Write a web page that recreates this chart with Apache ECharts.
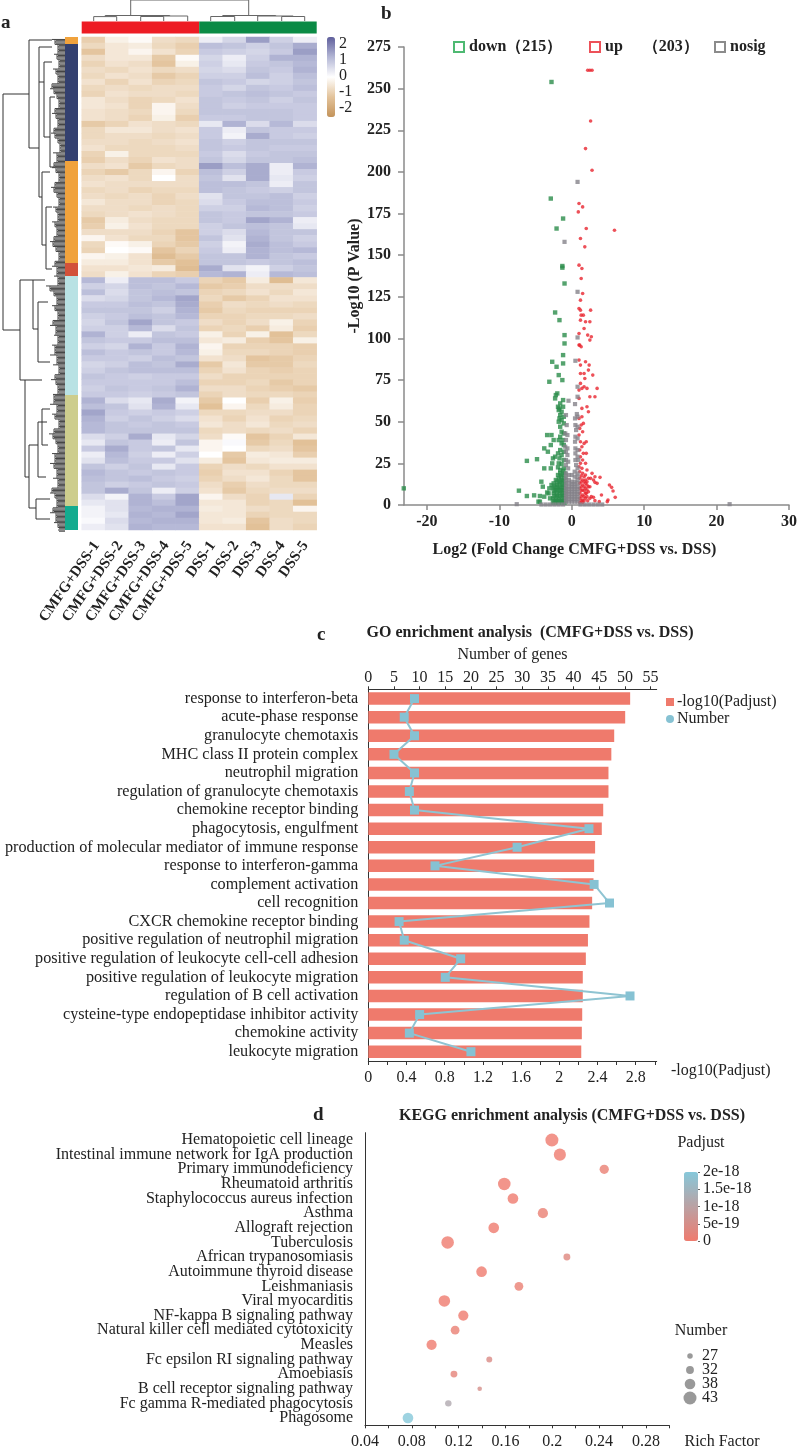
<!DOCTYPE html>
<html><head><meta charset="utf-8">
<style>html,body{margin:0;padding:0;background:#fff}#c{width:800px;height:1450px}</style>
<script src="https://cdn.jsdelivr.net/npm/echarts@6/dist/echarts.min.js"></script>
</head><body><div id="c"></div>
<script>
const FONT='"Liberation Serif"';
// ---------- panel a
const samples=['CMFG+DSS-1','CMFG+DSS-2','CMFG+DSS-3','CMFG+DSS-4','CMFG+DSS-5','DSS-1','DSS-2','DSS-3','DSS-4','DSS-5'];
const heatRows=[
[-1.1,-.4,-.2,-.8,-.9,.2,.6,1.5,.7,.2],[-.9,-.6,-.5,-.9,-1.1,1,.9,.7,.9,1.3],[-1.3,-.6,-.3,-.7,-1,.8,.7,.6,.8,1.5],
[-.8,-.6,-.6,-1.2,-.2,.6,.2,.7,1.2,1.2],[-1,-.7,-.8,-1.3,-.4,.7,.3,.8,.9,1.1],[-.8,-.9,-.7,-.9,-.8,.6,.5,.9,.8,1.2],
[-.9,-.7,-.8,-1.2,-1,.7,.7,1,.7,1],[-.7,-1,-.7,-1,-.9,.9,.8,.6,.7,.9],[-.9,-.8,-.9,-.8,-.8,.8,.6,.9,.8,1],
[-1,-.7,-.8,-.8,-.9,.8,.9,1,.9,.8],[-.6,-.8,-1,-.9,-.7,.9,.8,.9,.7,.9],[-.6,-.7,-1,-.3,-.8,.9,.7,.8,.8,.8],
[-.7,-.8,-.9,-.3,-.9,.9,.9,.9,.9,.8],[-.7,-.8,-1,-.4,-1.1,.8,.8,.9,.9,.8],[-1.2,-1,-.7,-.8,-.9,.3,1.2,.5,1.1,.5],
[-.9,-.6,-.6,-.8,-.7,.8,.2,.9,.8,.8],[-.9,-.8,-.8,-.9,-.8,.8,.1,1.3,.8,.7],[-.8,-.8,-.9,-.8,-.7,.9,.7,.9,.9,.9],
[-.7,-.9,-.9,-.9,-.8,.9,.8,.9,.8,.8],[-1,-.4,-.9,-.9,-.9,.8,.5,.8,.9,.9],[-1.1,-.8,-1,-.7,-.8,.9,.6,.9,.9,1],
[-.8,-.7,-1.2,-.9,-.8,1.5,1,1.3,.2,1.2],[-1,-1.2,-.9,-.3,-1,1,.7,1.3,.2,.8],[-.8,-.7,-.9,-.1,-.8,.9,.4,1.3,.3,.7],
[-.7,-.8,-.8,-.8,-.8,1,1,.9,.2,.9],[-.9,-.8,-1,-.9,-.9,1,.9,.8,.7,.9],[-.8,-.9,-.8,-1,-.8,.4,.9,.9,1,.7],
[-.6,-.8,-.8,-1,-.9,.5,.8,1,1,.8],[-.8,-.8,-.9,-.8,-.9,.7,.7,1.1,1,.7],[-.9,-.8,-.7,-.8,-.9,.9,.8,.9,.9,.8],
[-1.2,-.5,-.8,-.9,-.9,.9,.8,1.4,1.2,.2],[-1.1,-.4,-.7,-.9,-.9,.7,.9,1,.9,.3],[-.8,-.8,-.8,-1,-1.3,.7,.5,1.1,.9,.9],
[-.3,-.7,-.9,-.9,-1.3,.9,.4,1.2,.9,.7],[-.9,-.2,-.4,-1,-1.2,.7,.1,1.3,1,.8],[-1,-.1,-.2,-1.3,-1,.8,.2,1.2,1,1.1],
[-.3,-.4,-.7,-1.5,-1.2,.9,.9,1.2,.9,.8],[-.5,-.5,-.7,-1.2,-1.4,.9,.9,.8,.9,1],[-.7,-.7,-.6,-.5,-1.5,1.3,.4,.1,.7,.9],
[-.8,-.4,-.7,-1,-1.1,1.1,1.2,.2,1.1,1],
[1.1,.2,1,1,.8,-1,-1.2,-.5,-1.5,-.6],[.7,.6,1,.9,1.1,-1.2,-1.1,-.8,-.8,-.8],[1,.5,.9,1,.9,-1,-.9,-.7,-.9,-.6],
[.5,.6,.9,1.1,1.4,-.9,-1.2,-1,-.7,-.7],[.8,.8,1,.9,1.3,-1.1,-.8,-.9,-.8,-.9],[.9,.9,.9,.7,1.2,-1.2,-.9,-1,-1,-1],
[.7,.8,1,.9,1.1,-1,-1,-.9,-.9,-.8],[.6,.9,1.4,.9,.8,-.8,-1,-.8,-.4,-1],[.7,.7,1.1,.5,.9,-1,-.9,-1.1,-.5,-1.1],
[1.2,.7,.2,.9,.8,-.4,-1,-.4,-1.4,-.9],[.9,.8,.8,1,1,-.6,-.5,-1.1,-1.3,-.4],[.7,.6,1.2,.8,1.2,-.3,-1,-1,-1,-1.1],
[1,.8,.9,.8,1.1,-.4,-.9,-.9,-1,-1.1],[.8,.8,.7,1,.9,-.7,-.8,-1.3,-1.2,-1],[.6,.7,1,.9,1.3,-1.2,-.6,-1.2,-1.2,-.9],
[.7,.9,1,1,1,-1,-.7,-1,-1.1,-1],[.9,.8,.7,.8,.8,-.8,-1,-1,-1,-1],[.8,.8,.8,.8,1,-1,-1,-.9,-1.2,-1],
[.7,.9,.8,.9,1.2,-.8,-.8,-1,-1.1,-1.2],[.8,.8,.7,.8,.9,-1,-.8,-.9,-.9,-1],[1.2,.5,.3,1.3,.1,-1.2,-.1,-1.1,-.4,-1.1],
[1,.9,.4,1.2,.3,-1.4,-.3,-.9,-.5,-1],[1.4,.8,.7,.8,.7,-.9,-.9,-.8,-.8,-1],[1.2,.7,.9,.7,.5,-.7,-1,-.7,-1,-.9],
[1.1,.9,.8,.9,.8,-.6,-.8,-.6,-.9,-.8],[1.1,.9,.9,.9,.9,-.9,-.8,-.9,-.8,-1],[.5,.7,1.3,.3,.6,-.8,-.2,-1.3,-1,-.6],
[.3,.9,.8,.2,.9,-.3,0,-1.2,-.9,-1.4],[.8,1.3,.8,.9,.3,-.3,-.1,-.9,-.8,-1.3],[.2,1.1,.7,.2,.7,-.1,-1.2,-.5,-.6,-1.1],
[.4,1,.8,.8,.4,-.5,-1.3,-.6,-.5,-.5],[.9,.7,.9,.3,.8,-1,-.8,-.9,-.7,-.7],[1.1,.9,.8,.9,.8,-1.1,-.7,-.7,-1,-1.3],
[1,.9,1,.8,.7,-1,-.8,-.6,-.9,-1.3],[.9,.7,.8,.9,.8,-.8,-1.1,-.8,-.9,-.9],[.9,1.3,.9,.2,.7,-.7,-1.2,-.9,-.8,-.8],
[.5,.1,1.2,.8,1.4,-.3,-.8,-1,.3,-1],[.3,.4,1.2,1,1.4,-.6,-.6,-1,-.9,-1.4],[.1,.4,1.1,1.2,1.2,-.5,-.6,-.8,-.9,-.3],
[.1,.3,1.2,1.1,1.4,-.6,-.6,-1,-.9,-.9],[0,.5,1.1,1.2,1.2,-.6,-.5,-1.3,-.8,-.9],[.2,.4,1.2,1.1,1.1,-.7,-.7,-1.4,-.8,-1]];
const clusterSizes=[7,117,102,13,119,111,24];
const clusterColors=['#f0a23c','#33406f','#f0a23c','#d2513a','#b9e2e4','#cdcd8d','#13ab8f'];
const groupSizes=[5,5];
const groupColors=['#ed1c24','#0a8a45'];
const heatTicks=[-2,-1,0,1,2];
const rowTree=[[3,57,3,293],[3,57,29,57],[3,293,20,293],[29,3,29,111],[29,3,52,3],[29,111,39,111],[39,10,39,160],[39,45,44,45],[39,10,52,10],
[44,25,44,100],[44,25,52,25],[44,100,50,100],[50,60,50,130],[50,60,55,60],[50,130,55,130],[39,160,42,160],[42,135,42,208],[42,135,50,135],[42,208,46,208],[46,170,46,232],[46,170,52,170],[46,232,52,232],
[20,243,20,343],[20,243,33,243],[20,343,25,343],[33,243,33,292],[33,243,45,243],[33,292,38,292],[38,265,38,325],[38,265,48,265],[38,325,50,325],
[25,343,25,440],[25,343,42,343],[25,440,29,440],[42,372,42,408],[42,372,50,372],[42,408,48,408],[29,408,29,471],[29,408,38,408],[29,471,36,471],[38,385,38,440],[38,385,47,385],[38,440,46,440],[36,462,36,482],[36,462,50,462],[36,482,50,482]];
const leafDepth=[52,55,58,54,57,59,53,56,58,52,50,54,57,59,55,52,56,58,54,51,55,58,60,53,57,54,52,56,59,55,
51,54,57,59,53,56,58,52,55,57,54,50,53,56,59,55,52,57,54,58,46,50,54,57,52,55,58,53,50,56,
54,58,52,55,50,57,53,59,55,51,56,58,53,54,50,57,52,55,59,54,49,53,56,58,52,55,50,54,57,53,
58,52,50,55,57,53,50,56,54,58];
const colTree=[[49,0,167,0],[49,0,49,15.5],[167,0,167,15.5],[23.5,15.5,88,15.5],[23.5,15.5,23.5,16.6],[88,15.5,88,16],
[12,16.6,35,16.6],[12,16.6,12,21],[35,16.6,35,21],[70.5,16,106,16],[70.5,16,70.5,16.5],[106,16,106,21],[59,16.5,82,16.5],[59,16.5,59,21],[82,16.5,82,21],
[141,15.5,194,15.5],[141,15.5,141,16.5],[194,15.5,194,16],[129,16.5,153,16.5],[129,16.5,129,21],[153,16.5,153,21],[176,16,211.5,16],[176,16,176,21],[211.5,16,211.5,16.5],[200,16.5,223,16.5],[200,16.5,200,21],[223,16.5,223,21]];
// ---------- panel b  [log2FC, -log10 P]
const volcanoDown=[[-2.8,254],[-2.9,184],[-1.2,172],[-2.1,166],[-1.3,143.5],[-1.3,142.5],[-1,133],[-2.3,115.6],[-1.7,111],[-1,102],[-1,97],[-1.2,90],[-2.7,86],[-1.2,85],[-2.1,83],[-1.8,78],[-1.3,75],[-3.1,74],[-2,67],[-2.2,66],[-2.3,64],[-1.2,63],[-1.6,61],[-1.9,59],[-1.7,58],[-1.2,59],[-1.8,57],[-1.4,56],[-1.6,54],[-1.1,53],[-1.7,52],[-1.4,51],[-1.8,50],[-1.1,49],[-1.6,47],[-1.4,44],[-3.4,42],[-2.8,42],[-1.1,43],[-1.6,41],[-1.8,39],[-2.5,39],[-1.2,39],[-1.4,37],[-2.9,36],[-1.1,36],[-3.8,34],[-3.3,32],[-1.6,33],[-1.1,32],[-1.9,31],[-1.4,30],[-2.3,29],[-2.6,28],[-1.7,28],[-4.8,27.5],[-6.2,26.5],[-1.1,27],[-2.7,25],[-1.8,25],[-1.4,24.6],[-3.8,22],[-2.9,22],[-1.9,22.6],[-1.1,22],[-1.6,21],
[-1,19],[-1.3,18],[-1.6,19],[-1,16],[-1.4,15],[-1.8,16],[-2.2,15],[-1,13],[-1.3,12],[-1.7,13],[-2.1,12],[-2.5,13],[-1,10],[-1.4,9],[-1.8,10],[-2.2,9],[-2.6,10],[-1,7],[-1.3,6],[-1.7,7],[-2.1,6],[-2.5,7],[-1,4],[-1.4,3],[-1.8,4],[-2.2,3],[-2.6,4],[-1,1.5],[-1.4,1.5],[-1.8,1.5],[-2.2,1.5],[-2.6,1.5],
[-1.2,20.5],[-1.5,17],[-1.2,14.5],[-1.6,14],[-2,14],[-1.2,11],[-1.6,11],[-2,11],[-2.4,11],[-1.2,8.5],[-1.6,8.5],[-2,8.5],[-2.4,8.5],[-1.2,5.5],[-1.6,5.5],[-2,5.5],[-2.4,5.5],[-1.2,2.5],[-1.6,2.5],[-2,2.5],[-2.4,2.5],[-1.9,18],[-2.8,12],
[-4.2,14],[-4,11],[-7.3,8.6],[-3.2,7],[-4.4,5.4],[-6.2,5.4],[-5.2,5.8],[-3.8,5],[-3,4],[-4.6,2],[-4.4,2],[-23.2,10],[-3.1,10],[-3.4,7.5]];
const volcanoUp=[[2.2,261],[2.5,261],[2.8,261],[2.6,230.6],[1.9,214],[2.8,201],[1,181],[1.5,179],[.9,176],[2,166],[5.9,165],[1.2,160],[1.8,155],[1,144],[1.4,142],[1.3,136],[1.5,127],[1.2,123],[1,118],[1.2,117],[2.6,117],[1.3,114],[1.6,114],[1.2,111],[1.9,110],[2.5,110],[1.7,106],[1,103],[2.2,102],[2.7,101],[2.5,99],[1,96],[1.3,95],[1.1,96],[1,87],[1.2,84],[1.9,86],[2.4,84],[2.3,81],[1.2,79],[1.7,79],[2.9,78],[1.8,76],[1.2,73],[1.7,71],[1.4,70],[2.1,70],[3.5,70],[1,69],[2.5,65],[3.2,65],[1,64],[2.1,59],[1.4,58],[2.3,56],[1.4,53],[1,52],[1.6,49],[1.3,48],[1.1,46],[1.5,44],[1,42],[1.2,38],[1.7,37],[2,38],[1.4,35],[1.1,33],[1.6,31],[2,31],[1.2,29],[1.5,27],[1.2,25],[1.9,25],[1,23],[1.4,22],[2.1,21],
[1.1,20],[1.5,19],[1.9,18],[1.1,16],[1.5,15],[1.9,15],[2.3,16],[1.1,13],[1.5,12],[1.9,13],[2.3,11],[1.1,10],[1.5,9],[1.9,10],[1.1,7],[1.5,6],[1.9,7],[2.3,8],[1.1,4],[1.5,3],[1.9,4],[2.2,2.5],[1.1,1.5],[1.5,1.5],
[1.3,17.5],[1.7,17],[1.3,14],[1.7,14],[2.1,14],[1.3,11],[1.7,11],[2.1,12],[1.3,8.5],[1.7,8.5],[2.1,9],[1.3,5],[1.7,5],[2.1,5],[1.3,2.5],[1.7,2.5],
[5.2,12],[5.5,10.6],[5.7,8.4],[6,4.6],[5,3],[4.1,6],[3.9,16.6],[3.2,17],[2.8,19],[3.2,13.6],[3.5,13],[2.5,11],[2.7,5],[3,4.6],[2.5,4],[3.2,2.6],[3.8,2],[2,7],[2.6,16],[3,15],[4.9,2]];
const volcanoNs=[[.8,194],[-1,158],[.8,128],[.8,100.6],[.5,86.6],[.8,71],[.8,65],[.45,60.6],[-.45,62.6],[.45,52],[.7,54.6],[.8,53],[-.8,54],[.5,48],[.8,47],[-.7,48],[.6,45],[-.9,43],[-.6,42],[.5,41],[.8,40],[-.8,39],[.45,38],[-.9,35],[-.6,34],[.5,34],[.8,33],[-.8,32],[.5,31],[.8,29],[-.6,30],[.5,27],[.9,27],[-.8,27],[-.5,26],[-.8,24],[.6,24],[.8,22],[-.5,22],[.4,20],
[-.8,19],[-.4,18],[0,18],[.4,17],[.8,19],[-.8,15],[-.4,15],[0,14],[.4,14],[.8,15],[-.8,11],[-.4,11],[0,11],[.4,11],[.8,11],[-.8,8],[-.4,8],[0,8],[.4,8],[.8,8],[-.8,5],[-.4,5],[0,5],[.4,5],[.8,5],[-.8,2],[-.4,2],[0,2],[.4,2],[.8,2],
[-.8,17],[.8,17],[-.8,13],[-.4,13],[0,12.5],[.4,12.5],[.8,13],[-.8,9.5],[-.4,9.5],[0,9.5],[.4,9.5],[.8,9.5],[-.8,6.5],[-.4,6.5],[0,6.5],[.4,6.5],[.8,6.5],[-.8,3.5],[-.4,3.5],[0,3.5],[.4,3.5],[.8,3.5],
[-4.2,.3],[-3.6,.3],[-3,.3],[-2.4,.3],[-1.8,.3],[-1.2,.3],[1.2,.3],[1.8,.3],[2.4,.3],[3,.3],[3.6,.3],[4.2,.3],[-7.6,.5],[21.8,.5]];
// ---------- panel c
const goTerms=['response to interferon-beta','acute-phase response','granulocyte chemotaxis','MHC class II protein complex','neutrophil migration','regulation of granulocyte chemotaxis','chemokine receptor binding','phagocytosis, engulfment','production of molecular mediator of immune response','response to interferon-gamma','complement activation','cell recognition','CXCR chemokine receptor binding','positive regulation of neutrophil migration','positive regulation of leukocyte cell-cell adhesion','positive regulation of leukocyte migration','regulation of B cell activation','cysteine-type endopeptidase inhibitor activity','chemokine activity','leukocyte migration'];
const goPadj=[2.742,2.69,2.575,2.545,2.515,2.515,2.46,2.445,2.375,2.365,2.358,2.344,2.316,2.30,2.278,2.246,2.246,2.24,2.236,2.23];
const goNumber=[9,7,9,5,9,8,9,43,29,13,44,47,6,7,18,15,51,10,8,20];
// ---------- panel d
const keggTerms=['Hematopoietic cell lineage','Intestinal immune network for IgA production','Primary immunodeficiency','Rheumatoid arthritis','Staphylococcus aureus infection','Asthma','Allograft rejection','Tuberculosis','African trypanosomiasis','Autoimmune thyroid disease','Leishmaniasis','Viral myocarditis','NF-kappa B signaling pathway','Natural killer cell mediated cytotoxicity','Measles','Fc epsilon RI signaling pathway','Amoebiasis','B cell receptor signaling pathway','Fc gamma R-mediated phagocytosis','Phagosome'];
const keggRich=[.1997,.2065,.2444,.159,.1664,.192,.15,.1106,.2125,.1396,.1715,.1078,.124,.117,.0969,.1462,.116,.138,.1112,.0767];
const keggNumber=[43,41,35,42,38,37,38,42,30,38,34,40,37,34,37,28,30,25,29,38];
const keggPadj=[0,0,1e-19,0,0,1e-19,0,0,3e-19,0,1e-19,0,0,1e-19,0,4e-19,2e-19,5e-19,1.2e-18,2e-18];
const padjTicks=[0,5e-19,1e-18,1.5e-18,2e-18];
const padjLabels=['0','5e-19','1e-18','1.5e-18','2e-18'];
const numberKeys=[27,32,38,43];

const bubble=n=>5.5+(n-27)*0.47;
const hide={show:false};
const ink='#222';
function segItem(stroke){return (p,api)=>{const a=api.coord([api.value(0),api.value(1)]),b=api.coord([api.value(2),api.value(3)]);
  return {type:'line',shape:{x1:a[0],y1:a[1],x2:b[0],y2:b[1]},style:{stroke:stroke,lineWidth:1}};};}
const leafSegs=[];const step=493/leafDepth.length;
leafDepth.forEach((d,i)=>{const y=(i+.5)*step;leafSegs.push([d,y,65,y]);
  if(i<leafDepth.length-1){const m=Math.max(d,leafDepth[i+1]);leafSegs.push([m,y,m,y+step]);}
  [.25,.5,.75].forEach(k=>leafSegs.push([Math.max(d,leafDepth[Math.min(i+1,leafDepth.length-1)])+(k===.5?0:1),y+k*step,65,y+k*step]));});
const heatData=[];heatRows.forEach((r,y)=>r.forEach((v,x)=>heatData.push([x,y,v])));
const grid=[
 {left:81.7,top:37,width:235,height:493},      //0 heat
 {left:65,top:37,width:13,height:493},         //1 row bar
 {left:81.7,top:21.5,width:235,height:12},     //2 col bar
 {left:0,top:37,width:65,height:493},          //3 row tree
 {left:81.7,top:0,width:235,height:21},        //4 col tree
 {left:404,top:47,width:392.7,height:458},     //5 volcano
 {left:368.3,top:689.3,width:288.4,height:371.7}, //6 GO
 {left:365,top:1132.7,width:304.3,height:292.6},  //7 KEGG
 {left:684,top:1349,width:12,height:56},       //8 number key
 {left:335,top:37,width:1,height:80},          //9 heat ticks
 {left:698,top:1172,width:1,height:69},        //10 padj ticks
 {left:85,top:37,width:232,height:493}         //11 sample labels
];
const axisLab=(extra)=>Object.assign({fontFamily:FONT,color:ink,fontSize:16},extra||{});
const line=(c,w)=>({show:true,onZero:false,lineStyle:{color:c,width:w||1}});
const xAxis=[
 {gridIndex:0,type:'category',data:samples,show:false},
 {gridIndex:1,type:'category',data:[''],show:false},
 {gridIndex:2,type:'value',min:0,max:10,show:false},
 {gridIndex:3,type:'value',min:0,max:65,show:false},
 {gridIndex:4,type:'value',min:0,max:235,show:false},
 {gridIndex:5,type:'value',min:-23.17,max:30,splitLine:hide,axisLine:line('#8a8a8a',1.5),
  axisTick:{show:true,length:5,lineStyle:{color:'#8a8a8a',width:1.5},customValues:[-20,-10,0,10,20,30]},
  axisLabel:axisLab({fontWeight:'bold',margin:9,customValues:[-20,-10,0,10,20,30]}),
  name:'Log2 (Fold Change CMFG+DSS vs. DSS)',nameLocation:'middle',nameGap:37,nameTextStyle:{fontFamily:FONT,fontWeight:'bold',fontSize:16,color:ink,padding:[0,44,0,0]}},
 {gridIndex:6,type:'value',min:0,max:3.02,position:'bottom',splitLine:hide,axisLine:line('#333'),
  axisTick:{show:true,length:4,lineStyle:{color:'#333'},customValues:[0,.2,.4,.6,.8,1,1.2,1.4,1.6,1.8,2,2.2,2.4,2.6,2.8,3]},
  axisLabel:axisLab({margin:9,customValues:[0,.4,.8,1.2,1.6,2,2.4,2.8]})},
 {gridIndex:6,type:'value',min:0,max:56.2,position:'top',splitLine:hide,axisLine:line('#333'),
  axisTick:{show:true,length:3,lineStyle:{color:'#333'},customValues:[0,5,10,15,20,25,30,35,40,45,50,55]},
  axisLabel:axisLab({margin:4,customValues:[0,5,10,15,20,25,30,35,40,45,50,55]}),
  name:'Number of genes',nameLocation:'middle',nameGap:27,nameTextStyle:{fontFamily:FONT,fontSize:16,color:ink}},
 {gridIndex:7,type:'value',min:.04,max:.3,splitLine:hide,axisLine:line('#333'),
  axisTick:{show:true,length:3,lineStyle:{color:'#333'},customValues:[.04,.06,.08,.1,.12,.14,.16,.18,.2,.22,.24,.26,.28,.3]},
  axisLabel:axisLab({margin:8,customValues:[.04,.08,.12,.16,.2,.24,.28]})},
 {gridIndex:8,type:'value',min:0,max:1,show:false},
 {gridIndex:9,type:'value',min:0,max:1,show:false},
 {gridIndex:10,type:'value',min:0,max:1,show:false},
 {gridIndex:11,type:'category',data:samples,axisLine:hide,axisTick:hide,axisLabel:axisLab({rotate:55,fontSize:15,margin:13,interval:0,fontWeight:'bold'})}
];
const yAxis=[
 {gridIndex:0,type:'category',inverse:true,data:heatRows.map((r,i)=>i),show:false},
 {gridIndex:1,type:'value',inverse:true,min:0,max:493,show:false},
 {gridIndex:2,type:'category',data:[''],show:false},
 {gridIndex:3,type:'value',inverse:true,min:0,max:493,show:false},
 {gridIndex:4,type:'value',inverse:true,min:0,max:21,show:false},
 {gridIndex:5,type:'value',min:0,max:275,interval:25,splitLine:hide,axisLine:line('#8a8a8a',1.5),
  axisTick:{show:true,length:6,lineStyle:{color:'#8a8a8a',width:1.5}},axisLabel:axisLab({fontWeight:'bold',margin:13}),
  name:'-Log10 (P Value)',nameLocation:'middle',nameGap:38,nameRotate:90,nameTextStyle:{fontFamily:FONT,fontWeight:'bold',fontSize:16,color:ink}},
 {gridIndex:6,type:'category',inverse:true,data:goTerms,axisLine:line('#333'),axisTick:{alignWithLabel:true,length:3,lineStyle:{color:'#333'}},axisLabel:axisLab({interval:0,fontSize:16.2,margin:10})},
 {gridIndex:7,type:'category',inverse:true,data:keggTerms,axisLine:line('#333'),axisTick:{alignWithLabel:true,length:5,lineStyle:{color:'#333'}},axisLabel:axisLab({interval:0,fontSize:16,margin:12})},
 {gridIndex:8,type:'category',inverse:true,position:'right',data:numberKeys.map(String),axisLine:hide,axisTick:hide,axisLabel:axisLab({interval:0,margin:6,padding:[0,0,5,0]})},
 {gridIndex:9,type:'value',position:'right',min:-2.6,max:2.4,splitLine:hide,axisLine:hide,axisTick:hide,axisLabel:axisLab({margin:3,customValues:heatTicks})},
 {gridIndex:10,type:'value',position:'right',min:0,max:2e-18,splitLine:hide,axisLine:hide,axisTick:{show:true,length:2,lineStyle:{color:'#666'},customValues:padjTicks},axisLabel:axisLab({margin:4,padding:[0,0,9,0],customValues:padjTicks,formatter:v=>padjLabels[padjTicks.findIndex(t=>Math.abs(t-v)<1e-20)]})},
 {gridIndex:11,type:'value',min:0,max:1,show:false}
];
const series=[];
series.push({name:'heat',type:'heatmap',xAxisIndex:0,yAxisIndex:0,data:heatData,progressive:0,silent:true}); //0
clusterSizes.forEach((s,i)=>series.push({type:'bar',xAxisIndex:1,yAxisIndex:1,stack:'side',barWidth:'100%',data:[s],itemStyle:{color:clusterColors[i]},silent:true}));
groupSizes.forEach((s,i)=>series.push({type:'bar',xAxisIndex:2,yAxisIndex:2,stack:'top',barWidth:'100%',data:[s],itemStyle:{color:groupColors[i]},silent:true}));
series.push({type:'custom',xAxisIndex:3,yAxisIndex:3,data:rowTree,encode:{x:[0,2],y:[1,3]},renderItem:segItem('#333'),silent:true,clip:false});
series.push({type:'custom',xAxisIndex:3,yAxisIndex:3,data:leafSegs,encode:{x:[0,2],y:[1,3]},renderItem:segItem('#444'),silent:true,clip:false});
series.push({type:'custom',xAxisIndex:4,yAxisIndex:4,data:colTree,encode:{x:[0,2],y:[1,3]},renderItem:segItem('#666'),silent:true,clip:false});
series.push({name:'down（215）',type:'scatter',xAxisIndex:5,yAxisIndex:5,data:volcanoDown,symbol:'rect',symbolSize:4.4,itemStyle:{color:'#2a8c4a'},clip:false});
series.push({name:'up     （203）',type:'scatter',xAxisIndex:5,yAxisIndex:5,data:volcanoUp,symbol:'circle',symbolSize:3.6,itemStyle:{color:'#e8262f'},clip:false});
series.push({name:'nosig',type:'scatter',xAxisIndex:5,yAxisIndex:5,data:volcanoNs,symbol:'rect',symbolSize:4.2,itemStyle:{color:'#85828a'},clip:false});
series.push({name:'-log10(Padjust)',type:'bar',xAxisIndex:6,yAxisIndex:6,barWidth:12.5,data:goPadj,itemStyle:{color:'#ef7a6c'}});
series.push({name:'Number',type:'line',xAxisIndex:7,yAxisIndex:6,data:goNumber.map((v,i)=>[v,goTerms[i]]),symbol:'rect',symbolSize:9,lineStyle:{color:'#8fc4d2',width:2},itemStyle:{color:'#86c2d3'},z:5});
const keggIdx=series.length;
series.push({name:'kegg',type:'scatter',xAxisIndex:8,yAxisIndex:7,data:keggRich.map((v,i)=>[v,keggTerms[i],keggNumber[i],keggPadj[i]]),encode:{x:0,y:1},symbolSize:d=>bubble(d[2])});
series.push({name:'numberKey',type:'scatter',xAxisIndex:9,yAxisIndex:8,data:numberKeys.map(n=>[.5,String(n)]),symbolSize:d=>bubble(+d[1]),itemStyle:{color:'#7f7f7f'}});
const T=(text,x,y,o)=>({text:text,left:x,top:y,padding:0,textAlign:(o&&o.align)||'left',textStyle:Object.assign({fontFamily:FONT,color:ink,fontSize:16,fontWeight:'normal'},o&&o.style||{})});
const bold={fontWeight:'bold',fontSize:16};
const letter={fontWeight:'bold',fontSize:19};
const option={animation:false,backgroundColor:'#fff',
 title:[T('a',1,14,{style:letter}),T('b',381,5,{style:letter}),T('c',317,626,{style:letter}),T('d',313,1106,{style:letter}),
  T('GO enrichment analysis  (CMFG+DSS vs. DSS)',530,625,{align:'center',style:bold}),
  T('KEGG enrichment analysis (CMFG+DSS vs. DSS)',572,1108,{align:'center',style:bold}),
  T('-log10(Padjust)',671,1063),
  T('Padjust',701,1135,{align:'center'}),T('Number',701,1323,{align:'center'}),T('Rich Factor',722,1434,{align:'center'})],
 grid:grid,xAxis:xAxis,yAxis:yAxis,series:series,
 legend:[
  {left:453,top:39,padding:0,icon:'rect',itemWidth:10,itemHeight:10,itemStyle:{color:'#fff',borderColor:'#22a84f',borderWidth:2},data:['down（215）'],textStyle:{fontFamily:FONT,fontWeight:'bold',fontSize:16,color:ink},selectedMode:false},
  {left:589,top:39,padding:0,icon:'rect',itemWidth:10,itemHeight:10,itemStyle:{color:'#fff',borderColor:'#e8262f',borderWidth:2},data:['up     （203）'],textStyle:{fontFamily:FONT,fontWeight:'bold',fontSize:16,color:ink},selectedMode:false},
  {left:714,top:39,padding:0,icon:'rect',itemWidth:10,itemHeight:10,itemStyle:{color:'#fff',borderColor:'#6e6e6e',borderWidth:2},data:['nosig'],textStyle:{fontFamily:FONT,fontWeight:'bold',fontSize:16,color:ink},selectedMode:false},
  {left:666,top:694,padding:0,orient:'vertical',itemGap:1,itemWidth:8,itemHeight:8,data:[{name:'-log10(Padjust)',icon:'rect'},{name:'Number',icon:'circle'}],textStyle:{fontFamily:FONT,fontSize:16,color:ink,padding:[0,0,0,-2]},selectedMode:false}
 ],
 visualMap:[
  {type:'continuous',seriesIndex:0,dimension:2,min:-2.6,max:2.4,left:327,top:37,itemWidth:8,itemHeight:80,padding:0,calculable:false,realtime:false,hoverLink:false,
   inRange:{color:['#c4935a','#e3c39b','#ffffff','#b3b6d5','#5f5f9c']},text:null,textStyle:{fontSize:0}},
  {type:'continuous',seriesIndex:keggIdx,dimension:3,min:0,max:2e-18,left:684,top:1172,itemWidth:14,itemHeight:69,padding:0,calculable:false,hoverLink:false,
   inRange:{color:['#ef7b6e','#86c8da']},text:null,textStyle:{fontSize:0}}
 ]
};
const chart=echarts.init(document.getElementById('c'),null,{renderer:'canvas',width:800,height:1450});
chart.setOption(option);
</script></body></html>
